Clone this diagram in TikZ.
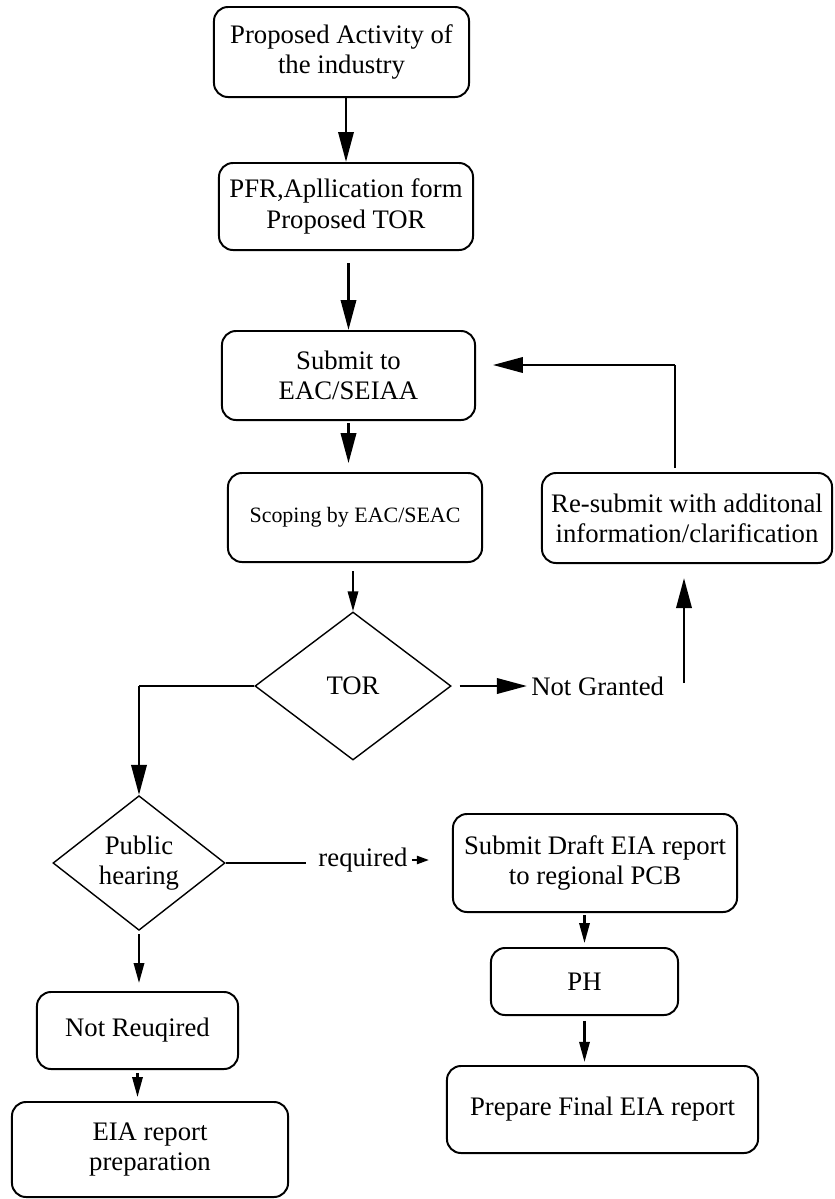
\documentclass[tikz,border=0pt]{standalone}
\usepackage{fontspec}
\setmainfont{Liberation Serif}
\usetikzlibrary{arrows.meta,shapes.geometric}

\begin{document}
\begin{tikzpicture}[x=0.025cm,y=-0.025cm,box/.style={draw,line width=1.4pt,rounded corners=0.35cm,align=center,inner sep=0pt,font=\fontsize{19}{21.5}\selectfont},dec/.style={draw,diamond,line width=1pt,align=center,inner sep=0pt,font=\fontsize{19}{21.5}\selectfont},lbl/.style={inner sep=0.1cm,font=\fontsize{19}{21.5}\selectfont},arr/.style={-{Triangle[length=0.75cm,width=0.38cm]},line width=2pt},sarr/.style={-{Triangle[length=0.5cm,width=0.26cm]},line width=1.5pt},tarr/.style={-{Triangle[length=0.3cm,width=0.2cm]},line width=1.5pt},ln/.style={line width=1pt}]
\useasboundingbox (0,0) rectangle (835,1199);
\node[box,minimum width=6.375cm,minimum height=2.25cm](act) at (341.5,52){Proposed Activity of\\the industry};
\node[box,minimum width=6.35cm,minimum height=2.175cm](pfr) at (346,206.5){PFR,Apllication form\\Proposed TOR};
\node[box,minimum width=6.325cm,minimum height=2.225cm](submit) at (348.5,375.5){Submit to\\EAC/SEIAA};
\node[box,minimum width=6.35cm,minimum height=2.225cm,font=\fontsize{15.6}{18}\selectfont](scope) at (355,517.5){Scoping by EAC/SEAC};
\node[dec,minimum width=4.9cm,minimum height=3.7cm](tor) at (353,686){TOR};
\node[lbl,anchor=west](ng) at (527,686){Not Granted};
\node[box,minimum width=7.25cm,minimum height=2.25cm](resub) at (687,518){Re-submit with additonal\\information/clarification};
\node[dec,minimum width=4.3cm,minimum height=3.275cm](hear) at (139,863){Public\\hearing};
\node[lbl](req) at (363,860){required};
\node[box,minimum width=7.1cm,minimum height=2.45cm](draft) at (595,863){Submit Draft EIA report\\to regional PCB};
\node[box,minimum width=4.675cm,minimum height=1.675cm](ph) at (584.5,981.5){PH};
\node[box,minimum width=7.775cm,minimum height=2.175cm](final) at (602.5,1109.5){Prepare Final EIA report};
\node[box,minimum width=5.025cm,minimum height=1.925cm](notreq) at (137.5,1030.5){Not Reuqired};
\node[box,minimum width=6.9cm,minimum height=2.375cm](prep) at (150,1149.5){EIA report\\preparation};
\coordinate (up) at (684,683);
\coordinate (back) at (675,365);
\draw[arr](pfr.north |- act.south)--(pfr.north);\draw[arr,shorten <=0.3cm](submit.north |- pfr.south)--(submit.north);
\draw[arr,shorten <=0.05cm,shorten >=0.22cm](submit.south)--(submit.south |- scope.north);\draw[sarr,shorten <=0.2cm](tor.north |- scope.south)--(tor.north);
\draw[ln](tor.west)--(tor.west -| hear.north);\draw[arr](tor.west -| hear.north)--(hear.north);
\draw[arr,shorten <=0.2cm](tor.east)--(tor.east -| ng.west);\draw[arr,shorten >=0.35cm](up)--(up |- resub.south);
\draw[ln]([yshift=0.1cm]resub.north -| back)--(back);\draw[arr,shorten >=0.42cm](back)--(back -| submit.east);
\draw[sarr,shorten <=0.08cm,shorten >=0.2cm](hear.south)--(hear.south |- notreq.north);
\draw[ln](hear.east)--([xshift=-0.2cm]hear.east -| req.west);\draw[tarr,shorten >=0.575cm](req.east)--(req.east -| draft.west);
\draw[sarr,shorten <=0.05cm,shorten >=0.1cm](draft.south -| ph.north)--(ph.north);\draw[sarr,shorten <=0.12cm,shorten >=0.08cm](ph.south)--(ph.south |- final.north);
\draw[sarr,shorten <=0.07cm,shorten >=0.1cm](notreq.south)--(notreq.south |- prep.north);
\end{tikzpicture}
\end{document}
